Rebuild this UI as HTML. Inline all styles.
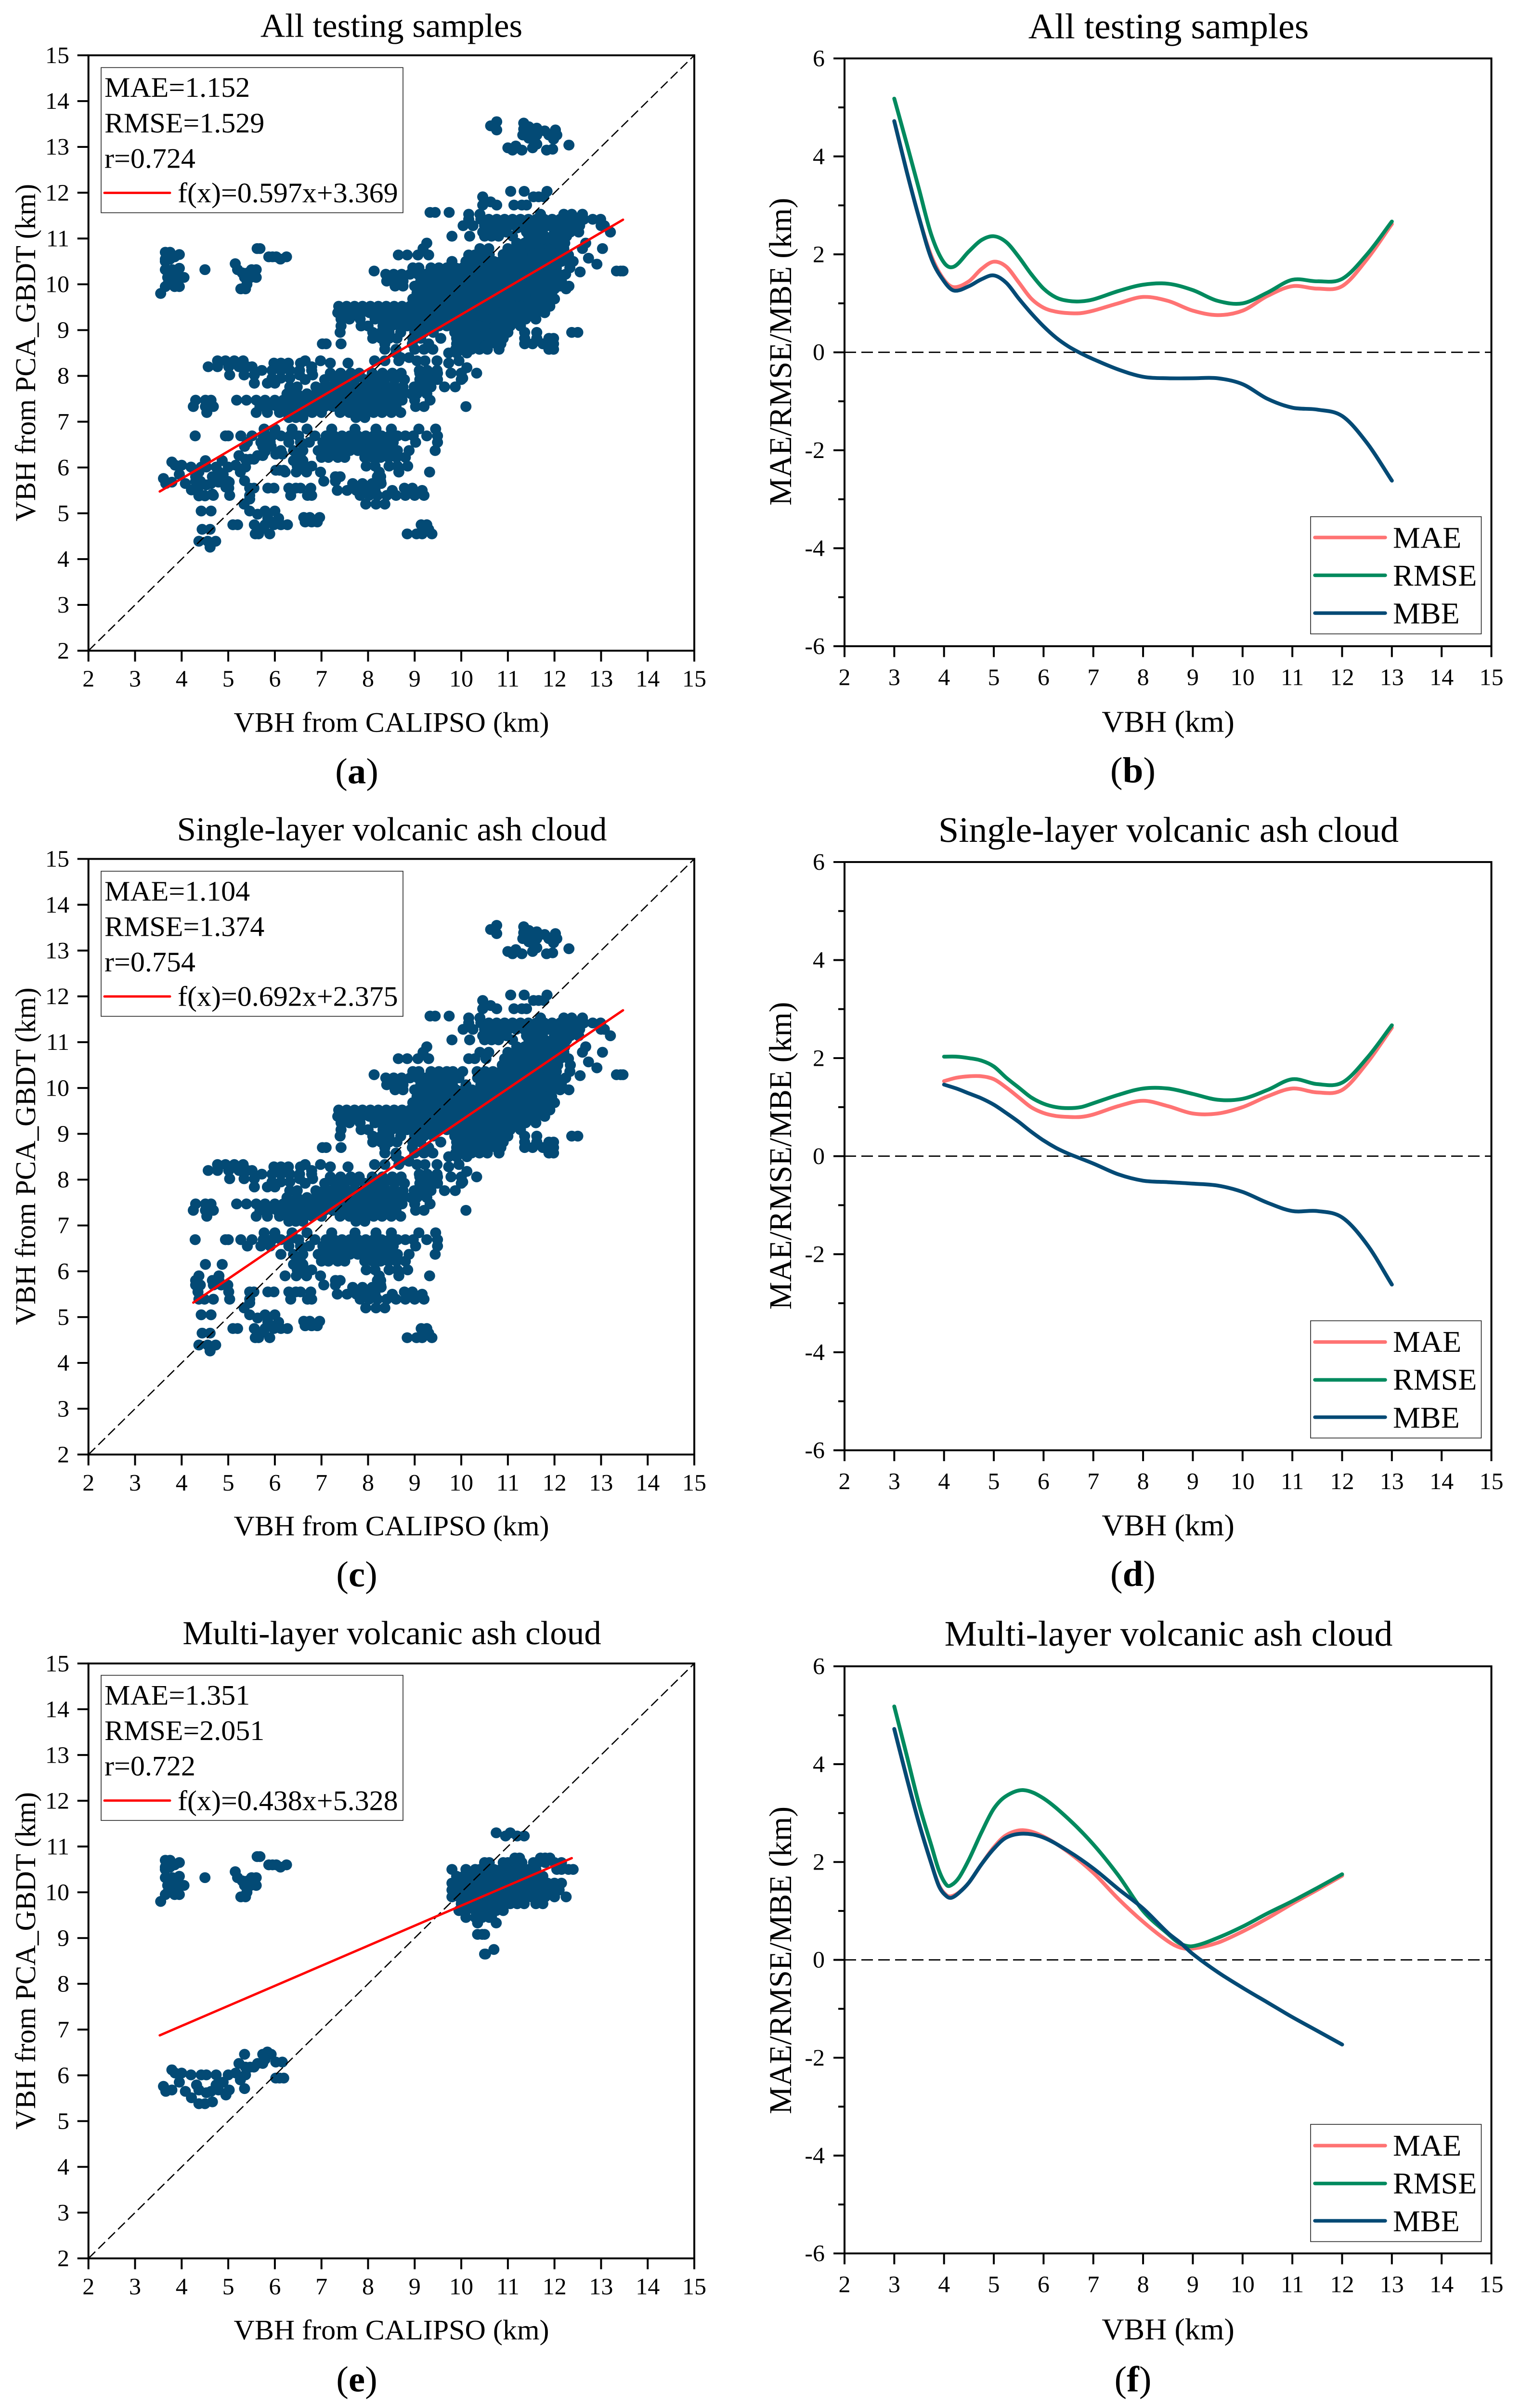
<!DOCTYPE html>
<html lang="en">
<head>
<meta charset="utf-8">
<title>VBH validation charts</title>
<style>
html,body{margin:0;padding:0;background:#fff;height:100%;overflow:hidden}
svg{display:block;width:100vw;height:100vh}
text{font-family:"Liberation Serif","Times New Roman",serif;fill:#000;text-rendering:geometricPrecision}
.title{font-size:71px;text-anchor:middle}
.title-r{font-size:76px;text-anchor:middle}
.axis{font-size:60px;text-anchor:middle}
.axis-r{font-size:64px;text-anchor:middle}
.ytitle-r{font-size:66px;text-anchor:middle}
.stat{font-size:60px}
.leg{font-size:64px}
.tag{font-size:77px;text-anchor:middle}
.tag tspan{font-weight:bold}
.box{fill:#fff;stroke:#222;stroke-width:1.6}
</style>
</head>
<body>
<svg id="figure" xmlns="http://www.w3.org/2000/svg" viewBox="0 0 3159 5094" preserveAspectRatio="none">
<rect width="3159" height="5094" fill="#fff"/>

<g id="plot-a"></g>
<g id="plot-b"></g>
<g id="plot-c"></g>
<g id="plot-d"></g>
<g id="plot-e"></g>
<g id="plot-f"></g>

<!-- Panel a -->
<text class="title" x="813" y="78">All testing samples</text>
<text class="axis" x="813" y="1548">VBH from CALIPSO (km)</text>
<text class="axis" transform="translate(73 746) rotate(-90)">VBH from PCA_GBDT (km)</text>
<g>
<rect class="box" x="210" y="143" width="627" height="307"/>
<text class="stat" x="217" y="205">MAE=1.152</text>
<text class="stat" x="217" y="280">RMSE=1.529</text>
<text class="stat" x="217" y="355">r=0.724</text>
<line x1="217" x2="353" y1="408" y2="408" stroke="#ff0000" stroke-width="5" stroke-linecap="round"/>
<text class="stat" x="369" y="428">f(x)=0.597x+3.369</text>
</g>
<text class="tag" x="741" y="1657">(<tspan>a</tspan>)</text>

<!-- Panel b -->
<text class="title-r" x="2427" y="81">All testing samples</text>
<text class="axis-r" x="2426" y="1548">VBH (km)</text>
<text class="ytitle-r" transform="translate(1643 744) rotate(-90)">MAE/RMSE/MBE (km)</text>
<g>
<rect class="box" x="2722" y="1093" width="354.5" height="248"/>
<line x1="2731" x2="2877" y1="1137" y2="1137" stroke="#ff7373" stroke-width="7.5" stroke-linecap="round"/>
<line x1="2731" x2="2877" y1="1217" y2="1217" stroke="#008a5e" stroke-width="7.5" stroke-linecap="round"/>
<line x1="2731" x2="2877" y1="1297" y2="1297" stroke="#034a75" stroke-width="7.5" stroke-linecap="round"/>
<text class="leg" x="2893" y="1159">MAE</text>
<text class="leg" x="2893" y="1239">RMSE</text>
<text class="leg" x="2893" y="1319">MBE</text>
</g>
<text class="tag" x="2353" y="1655">(<tspan>b</tspan>)</text>

<!-- Panel c -->
<text class="title" x="814" y="1778">Single-layer volcanic ash cloud</text>
<text class="axis" x="813" y="3248">VBH from CALIPSO (km)</text>
<text class="axis" transform="translate(73 2446) rotate(-90)">VBH from PCA_GBDT (km)</text>
<g>
<rect class="box" x="210" y="1843" width="627" height="307"/>
<text class="stat" x="217" y="1905">MAE=1.104</text>
<text class="stat" x="217" y="1980">RMSE=1.374</text>
<text class="stat" x="217" y="2055">r=0.754</text>
<line x1="217" x2="353" y1="2108" y2="2108" stroke="#ff0000" stroke-width="5" stroke-linecap="round"/>
<text class="stat" x="369" y="2128">f(x)=0.692x+2.375</text>
</g>
<text class="tag" x="741" y="3356">(<tspan>c</tspan>)</text>

<!-- Panel d -->
<text class="title-r" x="2427" y="1781">Single-layer volcanic ash cloud</text>
<text class="axis-r" x="2426" y="3248">VBH (km)</text>
<text class="ytitle-r" transform="translate(1643 2445) rotate(-90)">MAE/RMSE/MBE (km)</text>
<g>
<rect class="box" x="2722" y="2794" width="354.5" height="248"/>
<line x1="2731" x2="2877" y1="2839" y2="2839" stroke="#ff7373" stroke-width="7.5" stroke-linecap="round"/>
<line x1="2731" x2="2877" y1="2919" y2="2919" stroke="#008a5e" stroke-width="7.5" stroke-linecap="round"/>
<line x1="2731" x2="2877" y1="2998" y2="2998" stroke="#034a75" stroke-width="7.5" stroke-linecap="round"/>
<text class="leg" x="2893" y="2860">MAE</text>
<text class="leg" x="2893" y="2940">RMSE</text>
<text class="leg" x="2893" y="3020">MBE</text>
</g>
<text class="tag" x="2353" y="3355">(<tspan>d</tspan>)</text>

<!-- Panel e -->
<text class="title" x="814" y="3478">Multi-layer volcanic ash cloud</text>
<text class="axis" x="813" y="4949">VBH from CALIPSO (km)</text>
<text class="axis" transform="translate(73 4148) rotate(-90)">VBH from PCA_GBDT (km)</text>
<g>
<rect class="box" x="210" y="3544" width="627" height="307"/>
<text class="stat" x="217" y="3606">MAE=1.351</text>
<text class="stat" x="217" y="3681">RMSE=2.051</text>
<text class="stat" x="217" y="3756">r=0.722</text>
<line x1="217" x2="353" y1="3809" y2="3809" stroke="#ff0000" stroke-width="5" stroke-linecap="round"/>
<text class="stat" x="369" y="3829">f(x)=0.438x+5.328</text>
</g>
<text class="tag" x="741" y="5059">(<tspan>e</tspan>)</text>

<!-- Panel f -->
<text class="title-r" x="2427" y="3481">Multi-layer volcanic ash cloud</text>
<text class="axis-r" x="2426" y="4949">VBH (km)</text>
<text class="ytitle-r" transform="translate(1643 4147) rotate(-90)">MAE/RMSE/MBE (km)</text>
<g>
<rect class="box" x="2722" y="4494" width="354.5" height="248"/>
<line x1="2731" x2="2877" y1="4539" y2="4539" stroke="#ff7373" stroke-width="7.5" stroke-linecap="round"/>
<line x1="2731" x2="2877" y1="4619" y2="4619" stroke="#008a5e" stroke-width="7.5" stroke-linecap="round"/>
<line x1="2731" x2="2877" y1="4698" y2="4698" stroke="#034a75" stroke-width="7.5" stroke-linecap="round"/>
<text class="leg" x="2893" y="4560">MAE</text>
<text class="leg" x="2893" y="4640">RMSE</text>
<text class="leg" x="2893" y="4720">MBE</text>
</g>
<text class="tag" x="2353" y="5059">(<tspan>f</tspan>)</text>
</svg>

<script>
// ---- Tick labels ----
const xTickValues = [2,3,4,5,6,7,8,9,10,11,12,13,14,15];
const scatterYTicks = [2,3,4,5,6,7,8,9,10,11,12,13,14,15];
const errorYMajorTicks = [-6,-4,-2,0,2,4,6];
const errorYMinorTicks = [-5,-3,-1,1,3,5];

// ---- Regression lines: panels a, c, e ----
const fitSlopes = [0.597,0.692,0.438];
const fitIntercepts = [3.369,2.375,5.328];
const fitStarts = [3.53,4.25,3.53];
const fitEnds = [13.47,13.47,12.37];

// ---- Single-layer samples, row by row: one y value and the x values sharing it ----
const singleRowY = [13.55,13.52,13.46,13.44,13.41,13.39,13.37,13.35,13.26,13.19,13.17,13.06,13.04,13.02,12.98,12.95,12.93,12.03,11.91,11.8,11.73,11.57,11.53,11.42,11.28,11.14,11.05,10.9,10.78,10.64,10.57,10.5,10.44,10.36,10.29,10.27,10.22,10.07,9.96,9.81,9.68,9.52,9.38,9.24,9.09,8.95,8.82,8.7,8.58,8.5,8.4,8.33,8.28,8.2,8.18,8.12,8.06,8.02,7.95,7.92,7.84,7.76,7.61,7.47,7.33,7.2,7.09,6.84,6.69,6.55,6.37,6.22,6.15,6.03,5.9,5.8,5.7,5.65,5.55,5.5,5.39,5.31,5.2,5.05,4.98,4.91,4.89,4.81,4.75,4.65,4.55,4.39,4.26];
const singleRowX = [
[10.76],
[11.34],
[10.63],
[11.45],
[11.62],
[11.34],
[10.76,12.02],
[11.79],
[11.32,11.53,11.62,11.88,12.05],
[11.45],
[11.98],
[11.62],
[12.31],
[11.17],
[11,11.53],
[11.96],
[11.1,11.3,11.83],
[11.06,11.35,11.84],
[10.46,11.55,11.66,11.77],
[10.63],
[10.46,10.76,11.13,11.3,11.4],
[9.33,9.44,9.74],
[10.16,10.4,11.7,12.2,12.37,12.6],
[10.16,10.42,10.59,10.76,10.93,11.1,11.27,11.44,11.61,11.78,11.95,12.12,12.29,12.46,12.63,12.82,12.99],
[10.04,10.25,10.5,10.67,10.84,11.01,11.18,11.35,11.52,11.69,11.86,12.03,12.2,12.37,12.54,13,13.07],
[10.46,10.63,10.8,10.97,11.4,11.57,11.74,12,12.17,12.34,12.52,13.2],
[9.8,10.18,10.5,10.65,10.8,11.1,11.45,11.62,11.79,11.96,12.13,12.26],
[9.26,11.19,11.36,11.53,11.7,11.87,12.04,12.22,12.67],
[9.18,10.4,10.59,11,11.17,11.34,11.51,11.68,11.85,12.02,12.2,12.6,13.03],
[8.65,8.84,9.07,9.3,10.16,10.29,10.53,10.93,11.1,11.27,11.44,11.61,11.78,11.95,12.12,12.3],
[12.73],
[10.88,11.05,11.22,11.39,11.56,11.73,11.9,12.07,12.34],
[12.91],
[8.96,9.09,9.35,9.52,9.69,9.82,10.03,10.34,10.51,10.68,10.85,11.02,11.19,11.36,11.53,11.7,11.87,12.04,12.33],
[8.13,13.33,13.42,13.47],
[12.55],
[8.38,8.55,8.72,8.9,9.07,9.24,9.41,9.58,9.75,9.95,10.35,10.52,10.69,10.86,11.03,11.2,11.37,11.54,11.71,11.88,12.05,12.24],
[8.4,8.6,8.75,9.13,9.3,9.47,9.64,9.81,10.1,10.42,10.6,10.77,10.94,11.11,11.28,11.45,11.62,11.79,11.96,12.15],
[8.58,8.75,9,9.2,9.38,9.55,9.72,9.89,10.06,10.23,10.4,10.57,10.74,10.91,11.08,11.25,11.42,11.59,11.76,11.93,12.12,12.31],
[9.05,9.22,9.39,9.56,9.73,9.9,10.07,10.24,10.41,10.58,10.75,10.92,11.09,11.26,11.43,11.6,11.77,11.94],
[8.96,9.13,9.3,9.47,9.64,9.81,9.98,10.15,10.32,10.49,10.66,10.83,11,11.17,11.34,11.51,11.68,11.85,12],
[7.37,7.54,7.71,7.88,8.05,8.22,8.39,8.56,8.73,8.9,9.07,9.24,9.41,9.58,9.75,9.92,10.09,10.26,10.43,10.6,10.77,10.94,11.11,11.28,11.45,11.62,11.79,11.9],
[7.35,7.52,7.69,7.86,8.03,8.2,8.37,8.54,8.71,8.88,9.05,9.22,9.39,9.56,9.73,9.9,10.07,10.24,10.41,10.58,10.75,10.92,11.09,11.26,11.43,11.6,11.79],
[7.42,7.6,7.83,8.15,8.32,8.49,8.66,8.83,9,9.17,9.34,9.51,9.68,9.85,10.02,10.19,10.36,10.53,10.7,10.87,11.04,11.21,11.38,11.6],
[7.42,7.85,8,8.32,8.5,8.67,8.84,9.01,9.18,9.35,9.52,9.69,9.86,10.03,10.2,10.37,10.54,10.71,10.88,11.05,11.27],
[7.4,8.1,8.28,8.45,8.7,9,9.2,9.4,9.86,10.03,10.2,10.37,10.54,10.71,10.88,11,11.36,11.62,12.37,12.5],
[8.1,8.28,8.45,8.62,8.96,9.13,9.56,9.9,10.07,10.24,10.41,10.58,10.75,10.9,11.36,11.62,11.88,11.98],
[7.42,7.02,7.1,8.36,8.95,9.3,9.9,10.07,10.24,10.41,10.58,10.75,10.85,11.36,11.53,11.75,11.98],
[8.36,8.6,9,9.2,9.39,9.88,10.05,10.22,10.39,10.56,10.81,11.88,11.98],
[8.6,9.73,9.9,10.12],
[8.7,8.88],
[4.77,4.94,5.13,5.32,6.65,6.98,8.14,8.36,8.66,9.05,9.22,9.48,9.95],
[5.98,6.13,6.29,6.55,7.19,7.57,9.73],
[4.57,4.77,5.01,5.23,5.41,5.51,6.79],
[10.12],
[5.72,5.94,6.13,6.32,6.53,6.79,9.1,9.27,9.48],
[7.19,7.41,7.63,7.81,8.09,8.31,8.52,8.71,9.11,9.3,9.49,9.78,10,10.33],
[5.03,5.34,5.56,6.53,6.81],
[5.94,6.13,6.32,10.03],
[6.65,7.07,7.29,7.5,7.72,7.93,8.14,8.35,8.57,8.78,9.11,9.3,9.49,10],
[5.56,5.84,6],
[6.32,6.48,6.88,7.05,7.22,7.39,7.56,7.73,7.9,8.07,8.24,8.41,8.58,8.75,8.99,9.16,9.35,9.64,9.87],
[6.26,6.48,6.69,6.88,7.05,7.22,7.39,7.56,7.73,7.9,8.07,8.24,8.41,8.58,8.75,8.92,9.05,9.26],
[4.3,4.51,4.63,5.18,5.39,5.6,5.79,6,6.18,6.35,6.52,6.69,6.86,7.03,7.2,7.37,7.54,7.71,7.88,8.05,8.22,8.39,8.56,8.73,9,9.33],
[4.25,4.51,4.68,5.68,5.87,6.05,6.22,6.39,6.56,6.73,6.9,7.07,7.24,7.41,7.58,7.75,7.92,8.09,8.26,8.43,8.6,9.02,9.2,10.1],
[4.54,5.6,5.84,6.1,6.28,6.45,6.62,6.8,7,7.4,7.6,7.78,7.95,8.12,8.3,8.5,8.7],
[6.3,6.45,6.6,7.74,7.93],
[5.77,6,6.37,6.69,7.22,7.72,8.17,8.5,9.09,9.45],
[4.29,4.94,5,5.27,5.51,5.75,5.94,6.13,6.32,6.51,6.86,7.1,7.27,7.44,7.61,7.78,7.95,8.12,8.29,8.46,8.63,8.8,8.97,9.26,9.49],
[5.41,5.7,5.9,6.3,6.55,6.74,7.03,7.2,7.37,7.54,7.71,7.88,8.05,8.22,8.39,8.54,9.02,9.49],
[6.13,6.4,6.6,6.93,7.1,7.27,7.44,7.61,7.78,7.95,8.12,8.29,8.46,8.63,8.88,9.44],
[6.55,7,7.15,7.35,7.5,7.93,8.1,8.27,8.44,8.61,8.8],
[4.51,4.87,6.4,6.6],
[6.48,6.65,6.79,7.96,8.15,8.45,8.63,8.85],
[4.37,4.8,6.22,6.46,6.68,6.98,8.24,8.66,9.32],
[4.3,4.66,4.8,7.3,7.4,8.2,8.27],
[4.3,4.4,4.68,4.85,4.99,7.05,7.3,8.27],
[7.67,7.88,8.09,8.28],
[4.35,5.01,5.46,5.55,5.85,5.98,6.3,6.45,6.55,6.77,8.78,8.95],
[7.34,7.55,7.75,7.95,8.15,8.52,9.16],
[4.37,4.49,4.68,5.03,5.46,6.34,6.7,6.79,7.83,8.02,8.2,8.4,8.6,8.8,9,9.2],
[5.46],
[5.34,7.95,8.17,8.36],
[4.42,4.63,5.46,5.79,6],
[5.63],
[6.62,6.75,6.96],
[5.85,6.08],
[6.65,6.79,6.91],
[5.1,5.2,5.56,5.79,5.98,6.13,6.27,9.14,9.26],
[4.44,4.61,5.7,9.3],
[5.58,5.65,5.89,8.84,9.04,9.16,9.37],
[4.37,4.56,4.73],
[4.61]
];

// ---- Multi-layer samples, row by row ----
const multiRowY = [11.3,11.23,10.78,10.75,10.7,10.65,10.6,10.55,10.5,10.45,10.35,10.32,10.25,10.2,10.15,10.05,10.0,9.95,9.9,9.8,9.75,9.6,9.45,9.33,9.08,8.75,8.65,6.51,6.46,6.35,6.29,6.26,6.18,6.12,6.05,6.01,5.94,5.9,5.85,5.79,5.76,5.71,5.68,5.65,5.62,5.57,5.51,5.42,5.38];
const multiRowX = [
[10.75,11.05],
[10.95,11.2,11.35],
[5.62,5.68],
[11.15,11.25,11.7,11.8,11.9],
[3.65,3.75],
[3.95,10.5,10.6,10.9,11,11.1,11.3,11.55,11.65,11.8,12,12.15],
[3.85,5.87,5.95,6.03,6.25],
[3.65,3.75,6.12],
[3.65,9.8,10.1,10.3,10.4,10.55,10.7,10.85,11,11.15,11.3,11.45,11.6,12.05,12.15,12.3,12.4],
[5.15],
[3.95,9.9,10.05,10.2,10.4,10.55,10.7,10.85,11,11.15,11.3,11.45,11.6,11.75],
[3.65,3.8,4.5,5.2,5.5,5.6],
[3.85,5.3,5.42,5.55],
[9.8,9.95,10.1,10.25,10.4,10.55,10.7,10.85,11,11.15,11.3,11.45,11.6,11.75,11.85,12,12.15],
[3.7,3.8,3.95,4.05,5.35,5.48,5.6],
[9.8,9.95,10.1,10.25,10.4,10.55,10.7,10.85,11,11.15,11.3,11.45,11.6,11.75,11.9,12.1],
[3.7,5.4],
[3.65,3.85,3.95],
[5.27,5.37,9.8,9.95,10.15,10.3,10.45,10.6,10.75,10.9,11.05,11.2,11.35,11.5,11.65,11.8,12,12.25],
[3.55],
[10,10.15,10.3,10.45,10.6,10.75,10.9,11.05,11.2,11.35,11.6,11.75],
[9.95,10.1,10.3,10.45,10.6,10.75,10.9],
[10.1,10.3,10.45,10.6,10.65],
[10.35,10.75],
[10.35,10.45,10.5],
[10.7],
[10.5,10.52],
[5.84],
[5.35,5.74,5.92],
[5.79],
[6.02,6.16],
[5.23,5.63,5.74],
[5.37,5.47,5.55],
[3.79],
[5.16,3.86,4],
[4.2,4.42,4.53,4.74,5,5.37],
[6.02,6.1,6.19],
[5.26],
[3.95,4.89],
[4.32,4.74],
[3.61],
[5.35],
[3.79,4.37,4.79,5.02],
[3.66,4.08,4.63],
[4.53],
[4.95],
[4.21],
[4.66],
[4.37,4.5]
];

// ---- Error curves, panel b ----
const bX = [3,3.25,3.5,3.75,4,4.2,4.5,4.75,5,5.25,5.5,5.75,6,6.25,6.5,6.75,7,7.5,8,8.5,9,9.5,10,10.5,11,11.5,12,12.5,13];
const bMAE = [4.72,3.69,2.74,1.95,1.48,1.33,1.45,1.7,1.85,1.75,1.43,1.1,0.91,0.83,0.8,0.8,0.85,1.0,1.13,1.05,0.85,0.76,0.85,1.15,1.35,1.3,1.35,1.9,2.62];
const bRMSE = [5.18,4.26,3.32,2.38,1.83,1.75,2.06,2.29,2.37,2.25,1.95,1.6,1.3,1.12,1.05,1.04,1.08,1.25,1.38,1.4,1.27,1.05,1.0,1.22,1.48,1.45,1.5,2.0,2.67];
const bMBE = [4.72,3.69,2.74,1.9,1.45,1.26,1.35,1.49,1.57,1.42,1.1,0.8,0.53,0.3,0.12,-0.02,-0.14,-0.35,-0.5,-0.53,-0.53,-0.53,-0.65,-0.95,-1.13,-1.17,-1.3,-1.85,-2.62];

// ---- Error curves, panel d ----
const dX = [4,4.25,4.5,4.75,5,5.25,5.5,5.75,6,6.25,6.5,6.75,7,7.5,8,8.5,9,9.5,10,10.5,11,11.5,12,12.5,13];
const dMAE = [1.53,1.6,1.63,1.63,1.57,1.4,1.2,1.0,0.88,0.82,0.8,0.8,0.85,1.02,1.13,1.02,0.87,0.87,1.0,1.22,1.38,1.3,1.35,1.9,2.62];
const dRMSE = [2.03,2.03,2.0,1.95,1.83,1.6,1.4,1.2,1.07,1.0,0.98,1.0,1.08,1.25,1.38,1.38,1.27,1.15,1.17,1.35,1.57,1.47,1.5,2.0,2.67];
const dMBE = [1.46,1.38,1.28,1.18,1.05,0.88,0.7,0.5,0.32,0.17,0.05,-0.05,-0.15,-0.37,-0.5,-0.53,-0.56,-0.6,-0.73,-0.95,-1.12,-1.12,-1.25,-1.8,-2.62];

// ---- Error curves, panel f ----
const fX = [3,3.25,3.5,3.75,3.9,4.05,4.15,4.3,4.5,4.75,5,5.25,5.6,6,6.5,7,7.5,8,8.5,8.75,9,9.5,10,10.5,11,11.5,12];
const fMAE = [4.72,3.72,2.78,1.95,1.52,1.32,1.3,1.38,1.58,1.95,2.3,2.55,2.65,2.52,2.2,1.78,1.25,0.78,0.38,0.25,0.23,0.35,0.58,0.85,1.15,1.43,1.72];
const fRMSE = [5.18,4.18,3.17,2.32,1.82,1.53,1.53,1.68,2.05,2.6,3.09,3.35,3.47,3.3,2.88,2.36,1.73,1.0,0.53,0.33,0.28,0.45,0.68,0.95,1.2,1.47,1.75];
const fMBE = [4.72,3.72,2.78,1.95,1.5,1.3,1.27,1.37,1.58,1.95,2.27,2.5,2.58,2.5,2.22,1.87,1.45,1.05,0.55,0.35,0.12,-0.25,-0.57,-0.87,-1.17,-1.45,-1.73];

const SVGNS = 'http://www.w3.org/2000/svg';
const NAVY = '#034a75';
const frameA = {l:183.7,r:1442,t:117,b:1376.5,x0:2,x1:15,y0:2,y1:15};
const frameC = {l:183.7,r:1442,t:1817,b:3077,x0:2,x1:15,y0:2,y1:15};
const frameE = {l:183.7,r:1442,t:3519,b:4777.5,x0:2,x1:15,y0:2,y1:15};
const frameB = {l:1754,r:3097.5,t:123.6,b:1367,x0:2,x1:15,y0:-6,y1:6};
const frameD = {l:1754,r:3097.5,t:1823.6,b:3068,x0:2,x1:15,y0:-6,y1:6};
const frameF = {l:1754,r:3097.5,t:3525,b:4767,x0:2,x1:15,y0:-6,y1:6};

function xScale(f, v) { return f.l + (v - f.x0) / (f.x1 - f.x0) * (f.r - f.l); }
function yScale(f, v) { return f.b - (v - f.y0) / (f.y1 - f.y0) * (f.b - f.t); }

function shape(parent, tag, props) {
  const el = document.createElementNS(SVGNS, tag);
  for (const k in props) el.setAttribute(k, props[k]);
  parent.appendChild(el);
  return el;
}

function drawTickLabel(g, x, y, anchor, label, name) {
  const t = shape(g, 'text', {x: x, y: y, 'font-size': 50, 'text-anchor': anchor});
  t.textContent = String(label);
  
  
}

function drawAxes(g, f, yMajor, yMinor, labelRight, xLabelGap) {
  const frame = shape(g, 'rect', {x: f.l, y: f.t, width: f.r - f.l, height: f.b - f.t, fill: 'none', stroke: '#000', 'stroke-width': 4});
  
  
  xTickValues.forEach(function (v) {
    const x = xScale(f, v);
    const tick = shape(g, 'line', {x1: x, x2: x, y1: f.b, y2: f.b + 23, stroke: '#000', 'stroke-width': 4});
    
    
    drawTickLabel(g, x, f.b + xLabelGap, 'middle', v, 'x-tick-label');
  });
  yMajor.forEach(function (v) {
    const y = yScale(f, v);
    const tick = shape(g, 'line', {x1: f.l - 23, x2: f.l, y1: y, y2: y, stroke: '#000', 'stroke-width': 4});
    
    
    drawTickLabel(g, labelRight, y + 16.5, 'end', v, 'y-tick-label');
  });
  yMinor.forEach(function (v) {
    const y = yScale(f, v);
    const tick = shape(g, 'line', {x1: f.l - 13, x2: f.l, y1: y, y2: y, stroke: '#000', 'stroke-width': 4});
    
    
  });
}

function drawScatter(id, f, rowSets, slope, intercept, start, end) {
  const g = document.getElementById(id);
  rowSets.forEach(function (set) {
    set.ys.forEach(function (yv, i) {
      set.xs[i].forEach(function (xv) {
        const dot = shape(g, 'circle', {cx: xScale(f, xv), cy: yScale(f, yv), r: 11.5, fill: NAVY});
        
        
      });
    });
  });
  const diag = shape(g, 'line', {x1: xScale(f, f.x0), y1: yScale(f, f.y0), x2: xScale(f, f.x1), y2: yScale(f, f.y1), stroke: '#000', 'stroke-width': 2.6, 'stroke-dasharray': '20 9'});
  
  
  const fit = shape(g, 'line', {x1: xScale(f, start), y1: yScale(f, slope * start + intercept), x2: xScale(f, end), y2: yScale(f, slope * end + intercept), stroke: '#ff0000', 'stroke-width': 5, 'stroke-linecap': 'round'});
  
  
  drawAxes(g, f, scatterYTicks, [], 144, 76);
}

function smoothPath(f, xs, ys) {
  const pts = xs.map(function (x, i) { return [xScale(f, x), yScale(f, ys[i])]; });
  const last = pts.length - 1;
  const slopes = pts.map(function (p, i) {
    const a = pts[Math.max(i - 1, 0)], b = pts[Math.min(i + 1, last)];
    return (b[1] - a[1]) / (b[0] - a[0]);
  });
  let d = 'M' + pts[0][0].toFixed(1) + ' ' + pts[0][1].toFixed(1);
  for (let i = 0; i < last; i++) {
    const p1 = pts[i], p2 = pts[i + 1], h = (p2[0] - p1[0]) / 3;
    d += 'C' + (p1[0] + h).toFixed(1) + ' ' + (p1[1] + slopes[i] * h).toFixed(1) + ' ' + (p2[0] - h).toFixed(1) + ' ' + (p2[1] - slopes[i + 1] * h).toFixed(1) + ' ' + p2[0].toFixed(1) + ' ' + p2[1].toFixed(1);
  }
  return d;
}

function drawErrors(id, f, xs, mae, rmse, mbe) {
  const g = document.getElementById(id);
  const zero = shape(g, 'line', {x1: xScale(f, f.x0), x2: xScale(f, f.x1), y1: yScale(f, 0), y2: yScale(f, 0), stroke: '#000', 'stroke-width': 2.8, 'stroke-dasharray': '24 11'});
  
  
  const maeLine = shape(g, 'path', {d: smoothPath(f, xs, mae), fill: 'none', stroke: '#ff7373', 'stroke-width': 8, 'stroke-linecap': 'round'});
  
  
  const rmseLine = shape(g, 'path', {d: smoothPath(f, xs, rmse), fill: 'none', stroke: '#008a5e', 'stroke-width': 8, 'stroke-linecap': 'round'});
  
  
  const mbeLine = shape(g, 'path', {d: smoothPath(f, xs, mbe), fill: 'none', stroke: NAVY, 'stroke-width': 8, 'stroke-linecap': 'round'});
  
  
  drawAxes(g, f, errorYMajorTicks, errorYMinorTicks, 1713, 82);
}

const singleSet = {ys: singleRowY, xs: singleRowX};
const multiSet = {ys: multiRowY, xs: multiRowX};
drawScatter('plot-a', frameA, [singleSet, multiSet], fitSlopes[0], fitIntercepts[0], fitStarts[0], fitEnds[0]);
drawScatter('plot-c', frameC, [singleSet], fitSlopes[1], fitIntercepts[1], fitStarts[1], fitEnds[1]);
drawScatter('plot-e', frameE, [multiSet], fitSlopes[2], fitIntercepts[2], fitStarts[2], fitEnds[2]);
drawErrors('plot-b', frameB, bX, bMAE, bRMSE, bMBE);
drawErrors('plot-d', frameD, dX, dMAE, dRMSE, dMBE);
drawErrors('plot-f', frameF, fX, fMAE, fRMSE, fMBE);
</script>
</body>
</html>
